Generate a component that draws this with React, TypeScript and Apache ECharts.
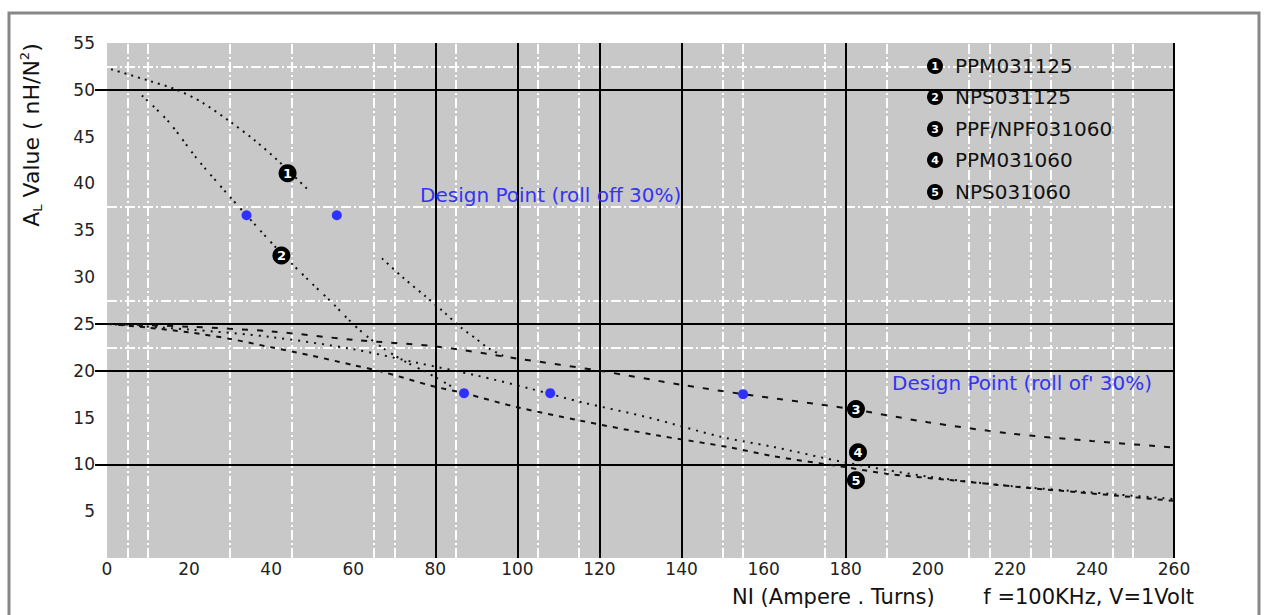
import React, { useEffect, useRef } from "react";
import * as echarts from "echarts";

const FONT = "'DejaVu Sans', sans-serif";

// ---------- data ----------
const xTickLabels = [0, 20, 40, 60, 80, 100, 120, 140, 160, 180, 200, 220, 240, 260];
const yTickLabels = [5, 10, 15, 20, 25, 30, 35, 40, 45, 50, 55];

const ppm031125: [number, number | null][] = [
  [1, 52.2], [10, 51.0], [17, 50.0], [23, 48.7], [30, 46.6], [36, 44.6], [42, 42.3], [49.5, 39.1],
  [58, null],
  [67, 32.0], [72, 30.0], [78, 27.8], [82, 26.3], [86, 24.7], [90, 23.4], [93, 22.4], [97, 21.5],
];
const nps031125: [number, number][] = [
  [8.5, 49.4], [15, 46.6], [22, 42.6], [29.5, 38.8], [34, 36.6], [41.5, 33.0], [49.5, 29.5],
  [55, 27.2], [59, 25.4], [63, 23.8], [68, 22.2], [73, 20.9], [78, 19.8], [84, 18.3],
];
const ppfNpf031060: [number, number][] = [
  [0, 25.0], [20, 24.7], [40, 24.2], [60, 23.3], [80, 22.6], [100, 21.3], [120, 20.0], [140, 18.5],
  [155, 17.5], [180, 16.0], [200, 14.5], [220, 13.3], [240, 12.5], [260, 11.8],
];
const ppm031060: [number, number][] = [
  [0, 25.0], [20, 24.4], [40, 23.6], [60, 22.3], [75, 20.9], [90, 19.5], [103, 18.1], [116, 16.6],
  [132, 15.0], [150, 12.9], [162, 11.9], [180, 10.2], [200, 8.7], [220, 7.7], [240, 7.0], [260, 6.3],
];
const nps031060: [number, number][] = [
  [0, 25.0], [10, 24.6], [20, 24.1], [30, 23.4], [40, 22.5], [50, 21.6], [60, 20.6], [67, 19.9],
  [79, 18.4], [87, 17.6], [100, 16.1], [115, 14.7], [134, 13.1], [152, 11.8], [162, 10.9],
  [180, 9.7], [190, 9.0], [206, 8.3], [224, 7.5], [236, 7.05], [250, 6.5], [260, 6.1],
];

const designX = [34, 56, 87, 108, 155];
const designY = [36.6, 36.6, 17.6, 17.6, 17.5];

const curveLabelNums = ["1", "2", "3", "4", "5"];
const curveLabelX = [44, 42.5, 182.5, 183, 182.5];
const curveLabelY = [41.1, 32.3, 15.9, 11.3, 8.3];

const legendNames = ["PPM031125", "NPS031125", "PPF/NPF031060", "PPM031060", "NPS031060"];

const whiteGridX = [5, 10, 30, 45, 65, 70, 85, 105, 115, 150, 155, 175, 190, 210, 215, 225, 230, 245, 250];
const whiteGridY = [22.5, 27.5, 37.5, 52.5];
const blackGridX = [80, 100, 120, 140, 180, 260];
const blackGridY = [10, 20, 25, 50];

// ---------- styling ----------
const GRID_LEFT = 107;
const GRID_RIGHT = 93;
const GRID_TOP = 43;
const GRID_BOTTOM = 57;

const curveStyle = (dash: number[]) => ({ color: "#111", width: 2, type: dash });

function buildOption(): any {
  const legendGraphics: any[] = [];
  const rowY = [66, 97, 129, 160, 192];
  legendNames.forEach((name, i) => {
    legendGraphics.push({
      type: "circle",
      shape: { cx: 935, cy: rowY[i], r: 8 },
      style: { fill: "#000" },
      z: 100,
    });
    legendGraphics.push({
      type: "text",
      x: 935,
      y: rowY[i],
      style: {
        text: curveLabelNums[i],
        fill: "#fff",
        font: `bold 11px ${FONT}`,
        align: "center",
        verticalAlign: "middle",
      },
      z: 101,
    });
    legendGraphics.push({
      type: "text",
      x: 955,
      y: rowY[i],
      style: {
        text: name,
        fill: "#111",
        font: `20px ${FONT}`,
        align: "left",
        verticalAlign: "middle",
      },
      z: 100,
    });
  });

  return {
    animation: false,
    backgroundColor: "#fff",
    textStyle: { fontFamily: FONT },
    grid: {
      left: GRID_LEFT,
      right: GRID_RIGHT,
      top: GRID_TOP,
      bottom: GRID_BOTTOM,
      show: true,
      backgroundColor: "#c8c8c8",
      borderWidth: 0,
    },
    xAxis: {
      type: "value",
      min: 0,
      max: 260,
      interval: 20,
      axisLine: { show: false },
      axisTick: { show: false },
      splitLine: { show: false },
      axisLabel: {
        color: "#222",
        fontSize: 17,
        fontFamily: FONT,
        margin: 2,
        formatter: (v: number) => (xTickLabels.includes(v) ? String(v) : ""),
      },
    },
    yAxis: {
      type: "value",
      min: 0,
      max: 55,
      interval: 5,
      axisLine: { show: false },
      axisTick: {
        show: true,
        customValues: blackGridY,
        length: 12,
        lineStyle: { color: "#000", width: 2 },
      },
      splitLine: { show: false },
      axisLabel: {
        color: "#222",
        fontSize: 17,
        fontFamily: FONT,
        margin: 12,
        showMinLabel: false,
        formatter: (v: number) => (yTickLabels.includes(v) ? String(v) : ""),
      },
    },
    graphic: [
      {
        type: "rect",
        shape: { x: 9, y: 13, width: 1250, height: 700 },
        style: { fill: "none", stroke: "#878787", lineWidth: 3 },
        z: -1,
        silent: true,
      },
      {
        type: "text",
        x: 31,
        y: 135,
        rotation: Math.PI / 2,
        style: {
          text: "A{sub|L} Value ( nH/N{sup|2})",
          fill: "#111",
          font: `22px ${FONT}`,
          align: "center",
          verticalAlign: "middle",
          rich: {
            sub: { fontSize: 13, fontFamily: FONT, fill: "#111", verticalAlign: "bottom", lineHeight: 26 },
            sup: { fontSize: 13, fontFamily: FONT, fill: "#111", verticalAlign: "top", lineHeight: 26 },
          },
        },
      },
      {
        type: "text",
        x: 732,
        y: 597,
        style: {
          text: "NI (Ampere . Turns)",
          fill: "#111",
          font: `21px ${FONT}`,
          align: "left",
          verticalAlign: "middle",
        },
      },
      {
        type: "text",
        x: 1194,
        y: 597,
        style: {
          text: "f =100KHz, V=1Volt",
          fill: "#111",
          font: `21px ${FONT}`,
          align: "right",
          verticalAlign: "middle",
        },
      },
      {
        type: "text",
        x: 420,
        y: 195,
        style: {
          text: "Design Point (roll off 30%)",
          fill: "#3434f2",
          font: `20px ${FONT}`,
          align: "left",
          verticalAlign: "middle",
        },
        z: 50,
      },
      {
        type: "text",
        x: 892,
        y: 383,
        style: {
          text: "Design Point (roll of' 30%)",
          fill: "#3434f2",
          font: `20px ${FONT}`,
          align: "left",
          verticalAlign: "middle",
        },
        z: 50,
      },
      ...legendGraphics,
    ],
    series: [
      {
        name: "white grid",
        type: "line",
        data: [[0, null]],
        symbol: "none",
        silent: true,
        z: 1,
        markLine: {
          silent: true,
          symbol: "none",
          label: { show: false },
          lineStyle: { color: "#ffffff", width: 2, type: [10, 3, 2, 3] },
          data: [
            ...whiteGridX.map((v) => ({ xAxis: v })),
            ...whiteGridY.map((v) => ({ yAxis: v })),
          ],
        },
      },
      {
        name: "black grid",
        type: "line",
        data: [[0, null]],
        symbol: "none",
        silent: true,
        z: 2,
        markLine: {
          silent: true,
          symbol: "none",
          label: { show: false },
          lineStyle: { color: "#000", width: 2, type: "solid" },
          data: [
            ...blackGridX.map((v) => ({ xAxis: v })),
            ...blackGridY.map((v) => ({ yAxis: v })),
          ],
        },
      },
      {
        name: "PPM031125",
        type: "line",
        data: ppm031125,
        symbol: "none",
        smooth: 0.3,
        connectNulls: false,
        lineStyle: curveStyle([2, 5]),
        z: 5,
      },
      {
        name: "NPS031125",
        type: "line",
        data: nps031125,
        symbol: "none",
        smooth: 0.3,
        lineStyle: curveStyle([2, 4, 2, 7]),
        z: 5,
      },
      {
        name: "PPF/NPF031060",
        type: "line",
        data: ppfNpf031060,
        symbol: "none",
        smooth: 0.3,
        lineStyle: curveStyle([6, 9]),
        z: 5,
      },
      {
        name: "PPM031060",
        type: "line",
        data: ppm031060,
        symbol: "none",
        smooth: 0.3,
        lineStyle: curveStyle([2, 6]),
        z: 5,
      },
      {
        name: "NPS031060",
        type: "line",
        data: nps031060,
        symbol: "none",
        smooth: 0.3,
        lineStyle: curveStyle([5, 6]),
        z: 5,
      },
      {
        name: "Design points",
        type: "scatter",
        data: designX.map((x, i) => [x, designY[i]]),
        symbol: "circle",
        symbolSize: 10,
        itemStyle: { color: "#2f2fff", opacity: 1 },
        z: 8,
      },
      {
        name: "Curve labels",
        type: "scatter",
        data: curveLabelX.map((x, i) => [x, curveLabelY[i]]),
        symbol: "circle",
        symbolSize: 18,
        itemStyle: { color: "#000", opacity: 1 },
        label: {
          show: true,
          position: "inside",
          formatter: (p: any) => curveLabelNums[p.dataIndex],
          color: "#fff",
          fontWeight: "bold",
          fontSize: 13,
          fontFamily: FONT,
        },
        z: 10,
      },
    ],
  };
}

export default function App() {
  const ref = useRef<HTMLDivElement>(null);
  useEffect(() => {
    if (!ref.current) return;
    const chart = echarts.init(ref.current, null, { renderer: "svg" });
    chart.setOption(buildOption());
    return () => {
      chart.dispose();
    };
  }, []);
  return (
    <div
      ref={ref}
      style={{ position: "fixed", left: 0, top: 0, width: 1267, height: 615, background: "#fff" }}
    />
  );
}
